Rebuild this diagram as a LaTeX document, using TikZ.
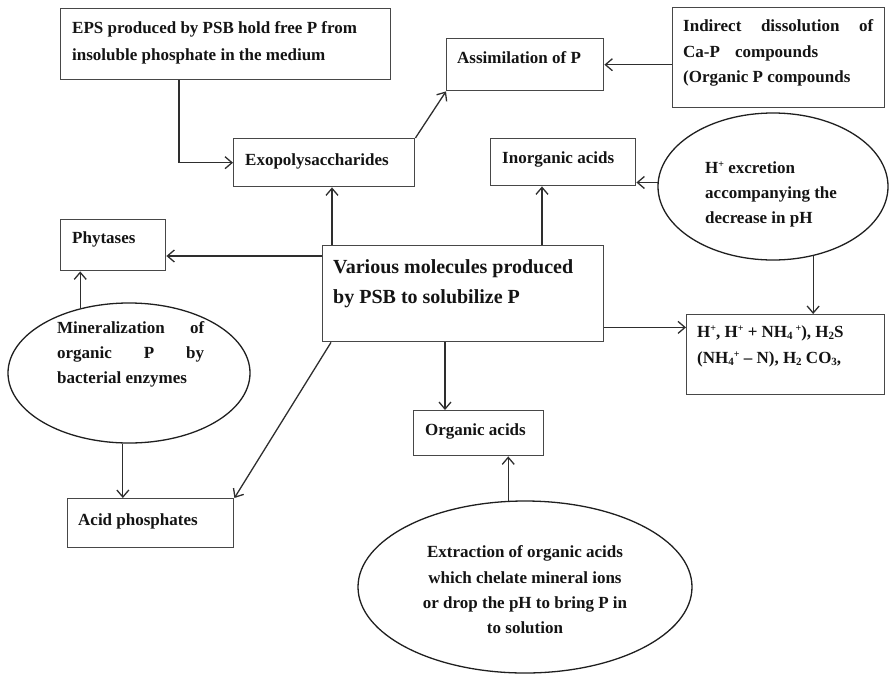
\documentclass[tikz,border=0pt]{standalone}
\usepackage{fontspec}
\setmainfont{Liberation Serif}
\usetikzlibrary{shapes.geometric,arrows.meta}
% small lowered / raised characters for the chemical formulas
\newcommand\lowch[1]{\raisebox{-0.35ex}{\fontsize{11}{11}\selectfont #1}}
\newcommand\highch[1]{\raisebox{0.75ex}{\fontsize{10}{10}\selectfont #1}}
\begin{document}
\begin{tikzpicture}[x=1pt,y=-1pt,
  box/.style={draw=black!72, line width=1.4pt, rectangle, inner sep=0pt, anchor=north west},
  oval/.style={draw=black!88, line width=1.3pt, ellipse, inner sep=0pt},
  lbl/.style={inner sep=0pt, anchor=base west, text=black!92,
              font=\bfseries\fontsize{17}{20}\selectfont},
  clbl/.style={lbl, anchor=base},
  big/.style={lbl, font=\bfseries\fontsize{20}{24}\selectfont},
  arr/.style={draw=black!82, line width=1.3pt, -{Straight Barb[length=7pt,width=12pt]}}]
\useasboundingbox (0,0) rectangle (891,675);

% ---- boxes ----
\node[box, minimum width=330pt, minimum height=71pt]  (eps)   at (60,8)   {};
\node[box, minimum width=157pt, minimum height=52pt]  (assim) at (446,38) {};
\node[box, minimum width=212pt, minimum height=100pt] (ind)   at (672,7)  {};
\node[box, minimum width=181pt, minimum height=48pt]  (exo)   at (233,138){};
\node[box, minimum width=145pt, minimum height=47pt]  (inorg) at (490,138){};
\node[box, minimum width=105pt, minimum height=51pt]  (phy)   at (60,219) {};
\node[box, minimum width=281pt, minimum height=96pt]  (ctr)   at (322,245){};
\node[box, minimum width=198pt, minimum height=80pt]  (rbox)  at (686,314){};
\node[box, minimum width=130pt, minimum height=45pt]  (org)   at (413,410){};
\node[box, minimum width=166pt, minimum height=49pt]  (acid)  at (67,498) {};

% ---- ellipses ----
\node[oval, minimum width=230pt, minimum height=147pt] (hel) at (773,186.5) {};
\node[oval, minimum width=242pt, minimum height=140pt] (lel) at (129,373)   {};
\node[oval, minimum width=334pt, minimum height=172pt] (bel) at (525,587)   {};

% ---- texts ----
\node[lbl] (epsA) at (72,33) {EPS produced by PSB hold free P from};
\node[lbl] (epsB) at (72,60) {insoluble phosphate in the medium};
\node[lbl] (exoT) at (245,165) {Exopolysaccharides};
\node[lbl] (asT)  at (457,63) {Assimilation of P};
\node[lbl] (indA) at (683,31) {\hbox to 190pt{Indirect\hfill dissolution\hfill of}};
\node[lbl] (indB) at (683,57) {\hbox to 135pt{Ca-P\hfill compounds}};
\node[lbl] (indC) at (683,82) {(Organic P compounds};
\node[lbl] (inT)  at (502,163) {Inorganic acids};
\node[lbl] (helA) at (705,173) {H\highch{+} excretion};
\node[lbl] (helB) at (705,198) {accompanying the};
\node[lbl] (helC) at (705,223) {decrease in pH};
\node[lbl] (rbA)  at (697,337) {H\highch{+}, H\highch{+} + NH\lowch{4}\,\highch{+}), H\lowch{2}S};
\node[lbl] (rbB)  at (697,363) {(NH\lowch{4}\highch{+} – N), H\lowch{2} CO\lowch{3},};
\node[big] (ctrA) at (333,273) {Various molecules produced};
\node[big] (ctrB) at (333,303) {by PSB to solubilize P};
\node[lbl] (phyT) at (72,243) {Phytases};
\node[lbl] (lelA) at (57,333) {\hbox to 147pt{Mineralization\hfill of}};
\node[lbl] (lelB) at (57,358) {\hbox to 147pt{organic\hfill P\hfill by}};
\node[lbl] (lelC) at (57,383) {bacterial enzymes};
\node[lbl] (acT)  at (78,525) {Acid phosphates};
\node[lbl] (orT)  at (425,435) {Organic acids};
\node[clbl] (belA) at (525,557) {Extraction of organic acids};
\node[clbl] (belB) at (525,583) {which chelate mineral ions};
\node[clbl] (belC) at (525,608) {or drop the pH to bring P in};
\node[clbl] (belD) at (525,633) {to solution};

% ---- exit points on the central box ----
\coordinate (cExo) at ([xshift=10pt]ctr.north west);
\coordinate (cIn)  at ([xshift=220pt]ctr.north west);
\coordinate (cPhy) at ([yshift=-11pt]ctr.north west);
\coordinate (cR)   at ([yshift=15pt]ctr.south east);
\coordinate (cOrg) at ([xshift=123pt]ctr.south west);
\coordinate (cAc)  at ([xshift=9pt]ctr.south west);
\coordinate (cEps) at ([xshift=119pt]eps.south west);

% ---- connectors ----
\draw[arr] (cEps) |- (exo.west);
\draw[arr] (exo.north east) -- (assim.south west);
\draw[arr] (assim.east -| ind.west) -- (assim.east);
\draw[arr] (cExo) -- (cExo |- exo.south);
\draw[arr] (cIn) -- (cIn |- inorg.south);
\draw[arr] (cPhy) -- (cPhy -| phy.east);
\draw[arr] (cR) -- (cR -| rbox.west);
\draw[arr] (cOrg) -- (cOrg |- org.north);
\draw[arr] (cAc) -- (acid.north east);
\draw[arr] (hel.178) -- (hel.178 -| inorg.east);
\draw[arr] (hel.-60) -- (hel.-60 |- rbox.north);
\draw[arr] (lel.127) -- (lel.127 |- phy.south);
\draw[arr] (lel.-95) -- (lel.-95 |- acid.north);
\draw[arr] (bel.101) -- (bel.101 |- org.south);
\end{tikzpicture}
\end{document}
